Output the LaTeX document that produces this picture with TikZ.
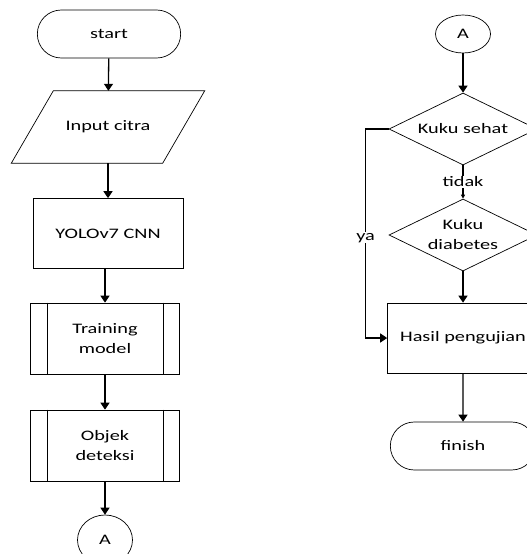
\documentclass[tikz,border=0pt]{standalone}
\usepackage{fontspec}
\setmainfont[FakeStretch=1.4]{Carlito}
\usepackage{tikz}
\usetikzlibrary{arrows.meta, positioning, shapes.geometric, shapes.misc}

\begin{document}
\begin{tikzpicture}[x=1pt, y=-1pt, >={Triangle[length=7pt, width=9pt]},
    every node/.style={font=\fontsize{14.5}{20}\selectfont, align=center},
    term/.style={draw, rounded rectangle, minimum width=150pt, minimum height=48pt, line width=0.7pt},
    io/.style={rectangle, minimum width=151pt, minimum height=72pt},
    proc/.style={draw, rectangle, minimum width=150pt, minimum height=70pt, line width=0.7pt},
    decision/.style={draw, diamond, aspect=2, inner sep=0pt, minimum width=148pt, minimum height=72pt, line width=0.7pt},
    conn/.style={draw, ellipse, minimum width=55pt, minimum height=38pt, inner sep=0pt, line width=0.7pt},
    arr/.style={->, line width=1.3pt}]
    \clip (0,0) rectangle (527,554);
    % kolom kiri
    \node[term] (start) at (109,34) {start};
    \node[io] (input) at (108,127) {Input citra};
    \draw[line width=0.7pt] ([xshift=21pt]input.north west) -- ([xshift=21pt]input.north east)
        -- ([xshift=-21pt]input.south east) -- ([xshift=-21pt]input.south west) -- cycle;
    \node[proc] (yolo) at (108,233.5) {YOLOv7 CNN};
    \node[proc, minimum width=149pt, minimum height=71pt] (train) at (105,338.5) {Training\\model};
    \node[proc, minimum width=149pt, minimum height=71pt] (objek) at (105,445.5) {Objek\\deteksi};
    \foreach \n in {train,objek}{
        \draw[line width=0.7pt] ([xshift=17pt]\n.north west) -- ([xshift=17pt]\n.south west);
        \draw[line width=0.7pt] ([xshift=-17pt]\n.north east) -- ([xshift=-17pt]\n.south east);
    }
    \node[conn, minimum height=50pt] (aL) at (105,540) {A};
    % kolom kanan
    \node[conn] (aR) at (463,34) {A};
    \node[decision] (sehat) at (463,129) {Kuku sehat};
    \node[decision] (diab) at (463,235) {Kuku\\diabetes};
    \node[proc, minimum width=151pt] (hasil) at (463,338) {Hasil pengujian};
    \node[term, minimum width=152pt] (finish) at (463,446) {finish};
    % panah
    \draw[arr] (start) -- (input);
    \draw[arr] (input) -- (yolo);
    \draw[arr] (yolo.south -| train) -- (train);
    \draw[arr] (train) -- (objek);
    \draw[arr] (objek) -- (aL);
    \draw[arr] (aR) -- (sehat);
    \draw[line width=1.3pt, -{Triangle[length=4pt, width=4pt]}] (sehat) -- node[fill=white, inner sep=1pt]{tidak} (diab);
    \draw[arr] (diab) -- (hasil);
    \draw[arr] (sehat.west) -- ++(-23,0) |- node[pos=0.26, fill=white, inner sep=1pt]{ya} (hasil.west);
    \draw[arr] (hasil) -- (finish);
\end{tikzpicture}
\end{document}
